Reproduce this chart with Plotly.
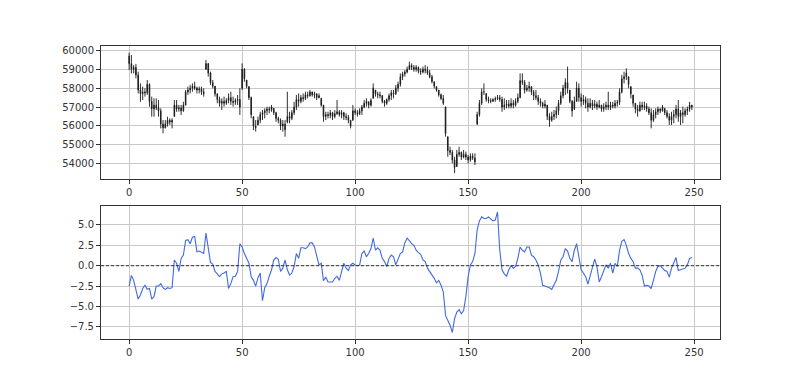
import plotly.graph_objects as go
from plotly.subplots import make_subplots

# ---- data ----
high = [59880,59750,59220,59280,58870,58250,58080,57990,58430,58250,
        57550,57460,57460,57370,56930,56310,56310,56490,56400,56400,
        57370,57370,57110,57110,57280,57900,58080,58170,58250,58340,
        58080,58080,58080,57990,59490,59310,58870,58430,58080,57720,
        57550,57460,57550,57460,57720,57810,57550,57460,57640,57990,
        59310,59050,58430,58080,57550,56490,56310,56490,56750,56840,
        56930,57020,57020,57110,56930,56750,56490,56400,56310,56310,
        57810,56750,56840,57280,57640,57720,57640,57720,57810,57810,
        57900,57810,57810,57720,57720,57460,57110,56750,56750,56840,
        56750,56840,57370,56840,56840,56750,56670,56580,56310,57110,
        56930,56840,56930,57110,57370,57460,57280,57460,58250,57900,
        57810,57810,57640,57370,57460,57720,57900,57900,58170,58340,
        58780,58870,58960,59140,59400,59310,59220,59220,59140,59050,
        59140,59220,59140,58960,58700,58340,58080,57900,57720,57640,
        57020,55430,54900,54730,54370,54730,54900,54640,54730,54640,
        54460,54550,54550,54550,56750,57370,57990,58250,57720,57550,
        57460,57460,57550,57640,57640,57550,57460,57370,57370,57460,
        57370,57460,57720,58780,58780,58430,58170,58340,58080,57900,
        57900,57640,57460,57280,57370,57110,56670,56750,56840,57020,
        57370,57810,58170,58520,59140,57900,57370,57550,58340,58250,
        57720,57640,57550,57460,57460,57370,57370,57280,57370,57110,
        57200,57280,57810,57280,57280,57370,57370,57990,58700,58870,
        59050,58610,58080,57640,57200,57110,57280,57280,57280,57200,
        57020,56930,56840,56930,57020,56930,57110,56930,56840,56670,
        56750,56840,57110,57370,56840,57020,56930,57020,57280,57110]
low = [58960,58780,58780,58520,57720,57280,57370,57550,57640,57020,
       56490,56490,56840,56490,55870,55610,55870,55960,56050,55870,
       56490,56750,56750,56580,56750,57110,57640,57720,57810,57900,
       57720,57720,57640,57550,58960,58610,58170,57990,57550,57200,
       57020,56840,57020,57110,57200,57110,57020,57110,57110,56580,
       57900,58340,57990,57370,56400,55780,55700,56050,56140,56310,
       56400,56580,56670,56750,56580,56220,56140,55780,55700,55430,
       56140,56140,56310,56580,56840,57020,57200,57280,57370,57460,
       57550,57550,57460,57370,57460,57020,56220,56310,56400,56400,
       56310,56400,56580,56490,56400,56310,56310,56140,55870,56310,
       56580,56490,56580,56580,56930,57020,56930,57020,57460,57550,
       57460,57460,57200,57020,57110,57280,57370,57460,57640,57810,
       58080,58430,58610,58780,58960,58960,58870,58870,58780,58700,
       58780,58780,58700,58520,58250,57990,57810,57550,57370,57110,
       55430,54370,54460,54020,53500,53850,54370,54200,54290,54200,
       54020,54110,54200,53930,56050,56490,57110,57640,57280,57200,
       57200,57280,57280,57370,57280,56750,56840,56930,56930,56930,
       56930,57020,57200,57460,58170,57720,57810,57810,57640,57370,
       57370,57110,57020,56930,56930,56310,55960,56220,56310,56400,
       56580,57110,57460,57640,57720,57200,56490,56840,57460,57280,
       57020,57110,56930,56750,56930,56840,56930,56840,56930,56750,
       56750,56840,56840,56840,56930,56930,57020,57110,57720,58250,
       58430,57990,57460,57020,56670,56490,56750,56840,56840,56750,
       56580,55870,56220,56400,56580,56670,56750,56580,56400,56050,
       56050,56140,56400,56220,56050,56140,56490,56580,56750,56840]
open_ = [59700,59300,59000,59100,58700,57900,57700,57800,57750,58200,
         57300,56900,57100,56950,56800,56100,55900,56100,56300,56200,
         56500,57100,56900,56950,56800,57100,57800,57900,58000,58100,
         58000,57900,57950,57800,59000,59300,58800,58300,58100,57700,
         57400,57200,57300,57200,57350,57500,57300,57250,57350,57400,
         58000,59000,58430,58080,57500,56490,56000,56050,56300,56600,
         56700,56800,56900,56850,56930,56700,56400,56300,56000,56100,
         56200,56500,56400,56700,57000,57400,57300,57500,57450,57650,
         57600,57800,57650,57700,57500,57460,57100,56500,56600,56550,
         56700,56500,56650,56750,56600,56700,56500,56450,56300,56300,
         56800,56700,56650,56800,57000,57200,57280,57100,57460,57900,
         57700,57650,57600,57300,57200,57400,57600,57750,57700,58000,
         58200,58600,58750,58850,59000,59200,59100,59000,59100,58900,
         58850,59000,58950,58800,58600,58340,58080,57900,57650,57450,
         57000,55430,54700,54600,54200,53850,54500,54600,54350,54500,
         54350,54200,54400,54300,56100,56600,57200,57800,57720,57400,
         57350,57300,57400,57450,57500,57400,57000,57100,57150,57050,
         57200,57100,57300,57500,58400,58300,57900,58000,58080,57800,
         57600,57500,57300,57200,57050,57100,56500,56300,56500,56600,
         56800,57200,57600,58000,58300,57900,57300,56900,57300,58000,
         57500,57300,57400,57200,57000,57200,57050,57150,57000,57100,
         56900,57000,57100,57000,57100,57050,57200,57250,57800,58500,
         58600,58600,58080,57640,57200,56900,56800,57100,57000,57050,
         56900,56700,56300,56600,56750,56900,56800,56930,56700,56500,
         56300,56500,56600,56900,56500,56700,56600,56800,56900,57100]
close = [59300,59000,59100,58700,57900,57700,57800,57750,58200,57300,
         56900,57100,56950,56800,56100,55900,56100,56300,56200,56300,
         57100,56900,56950,56800,57100,57800,57900,58000,58100,58000,
         57900,57950,57800,57700,59300,58800,58300,58100,57700,57400,
         57200,57300,57200,57350,57500,57300,57250,57350,57400,57000,
         59000,58500,58100,57500,56600,56000,55900,56300,56600,56700,
         56800,56900,56850,57000,56700,56400,56300,56000,56100,55800,
         56500,56400,56700,57000,57400,57300,57500,57450,57650,57600,
         57800,57650,57700,57500,57600,57100,56500,56600,56550,56700,
         56500,56650,56750,56600,56700,56500,56450,56300,56000,56800,
         56700,56650,56800,57000,57200,57300,57100,57350,58000,57700,
         57650,57600,57300,57200,57400,57600,57750,57700,58000,58200,
         58600,58750,58850,59000,59200,59100,59000,59100,58900,58850,
         59000,58950,58800,58600,58350,58100,57900,57650,57450,57200,
         55600,54700,54600,54200,53800,54500,54600,54350,54500,54350,
         54200,54400,54300,54100,56600,57200,57800,57800,57400,57350,
         57300,57400,57450,57500,57400,57000,57100,57150,57050,57200,
         57100,57300,57500,58400,58300,57900,58000,58100,57800,57600,
         57500,57300,57200,57050,57150,56500,56300,56500,56600,56800,
         57200,57600,58000,58300,58000,57300,56800,57300,58000,57500,
         57300,57400,57200,57000,57200,57050,57150,57000,57100,56900,
         57000,57100,57000,57100,57050,57200,57250,57800,58500,58600,
         58800,58200,57700,57200,56900,56800,57100,57000,57050,56900,
         56700,56300,56600,56750,56900,56800,57000,56700,56500,56300,
         56500,56600,56900,56500,56700,56600,56800,56900,57100,57000]
osc = [-2.5,-1.2,-1.8,-3.0,-4.1,-3.6,-2.8,-2.4,-2.9,-2.8,
       -4.1,-3.8,-2.5,-2.5,-2.2,-2.7,-2.9,-2.7,-2.8,-2.7,
       0.7,0.3,-0.7,0.9,1.3,3.1,3.2,2.7,3.5,3.6,
       1.7,1.8,1.6,1.5,4.0,2.3,0.4,0.2,-0.7,-1.0,
       -1.35,-1.0,-0.9,-0.7,-2.8,-2.2,-1.35,-1.3,-0.7,2.7,
       2.3,1.5,0.9,0.3,-1.35,-1.8,-2.5,-1.5,-0.9,-4.3,
       -2.7,-2.2,-1.3,-0.5,0.7,1.0,0.8,-0.7,-0.3,0.7,
       -0.5,-1.15,-0.9,-0.1,1.5,0.9,2.2,2.2,2.1,2.3,
       2.8,2.8,2.3,1.3,0.1,0.3,-1.85,-1.4,-2.0,-2.0,
       -2.0,-1.55,-1.3,-1.8,-0.7,0.3,-0.3,-0.6,0.1,0.3,
       0.1,0.0,0.1,1.5,1.8,1.1,1.5,2.1,3.4,1.9,
       2.2,1.9,0.9,0.5,-0.1,0.9,1.3,1.1,0.1,0.7,
       1.5,1.7,2.8,3.4,3.0,2.7,2.5,1.9,1.6,1.4,
       0.7,0.5,-0.3,-0.7,-1.15,-1.55,-2.1,-1.8,-2.4,-3.2,
       -6.1,-6.7,-7.3,-8.2,-6.5,-5.7,-5.4,-5.9,-5.5,-3.8,
       -1.35,0.1,0.5,1.5,4.4,5.5,6.0,5.8,5.8,6.0,
       5.8,5.5,5.6,6.6,1.9,-0.5,-1.0,-1.3,-0.5,0.0,
       -0.3,-0.1,0.9,2.3,1.9,1.7,2.3,2.3,1.3,1.1,
       0.7,0.1,-0.9,-2.4,-2.5,-2.6,-2.7,-2.9,-2.4,-1.8,
       -0.7,0.7,1.1,2.1,1.8,0.9,0.5,1.9,2.7,1.3,
       -0.5,-0.9,-1.35,-2.25,-1.3,-0.3,0.8,-0.1,-2.0,-1.35,
       -0.5,0.1,-0.3,0.3,-0.9,0.3,-0.1,1.9,3.0,3.2,
       2.5,1.5,0.9,0.5,-0.3,-0.3,-0.5,-1.15,-2.5,-2.4,
       -2.5,-2.8,-1.8,-0.7,-0.1,0.0,-0.3,-0.6,-0.7,-1.4,
       -0.3,0.3,1.0,-0.6,-0.5,-0.45,-0.3,0.1,0.9,1.0]
idx = list(range(len(close)))

price_ticks = [54000, 55000, 56000, 57000, 58000, 59000, 60000]
price_labels = ["54000", "55000", "56000", "57000", "58000", "59000", "60000"]
osc_ticks = [-7.5, -5.0, -2.5, 0.0, 2.5, 5.0]
osc_labels = ["\u22127.5", "\u22125.0", "\u22122.5", "0.0", "2.5", "5.0"]
x_ticks = [0, 50, 100, 150, 200, 250]

# ---- figure ----
fig = make_subplots(rows=2, cols=1, vertical_spacing=0.0)

fig.add_trace(go.Candlestick(
    x=idx, open=open_, high=high, low=low, close=close,
    increasing=dict(line=dict(color="#1a1a1a", width=0.9), fillcolor="#1a1a1a"),
    decreasing=dict(line=dict(color="#1a1a1a", width=0.9), fillcolor="#1a1a1a"),
    whiskerwidth=0, showlegend=False, hoverinfo="skip"), row=1, col=1)

fig.add_trace(go.Scatter(
    x=idx, y=osc, mode="lines",
    line=dict(color="#4169e1", width=1.1), showlegend=False), row=2, col=1)

fig.add_hline(y=0, line=dict(color="#222222", width=0.9, dash="3px,2px"), row=2, col=1)

axis_common = dict(showline=True, linecolor="#333333", linewidth=1, mirror=True,
                   ticks="outside", ticklen=4, tickcolor="#333333",
                   showgrid=True, gridcolor="#c8c8c8", gridwidth=1,
                   zeroline=False, tickfont=dict(size=10, color="#333333"))

fig.update_xaxes(**axis_common, tickvals=x_ticks, range=[-12.45, 261.45])
fig.update_xaxes(rangeslider=dict(visible=False), row=1, col=1)
fig.update_yaxes(**axis_common)
fig.update_yaxes(tickvals=price_ticks, ticktext=price_labels, range=[53190, 60230], row=1, col=1)
fig.update_yaxes(tickvals=osc_ticks, ticktext=osc_labels, range=[-9.0, 7.37], row=2, col=1)

# the page body adds an 8px offset, so margins are shifted to compensate
fig.update_layout(
    width=800, height=381,
    margin=dict(l=93, r=88, t=38, b=50),
    paper_bgcolor="white", plot_bgcolor="white",
    font=dict(family="DejaVu Sans", size=10, color="#333333"),
    boxgap=0.6,
    yaxis=dict(domain=[0.546, 1.0]),
    yaxis2=dict(domain=[0.0, 0.455]),
)

fig.write_html("out.html")
